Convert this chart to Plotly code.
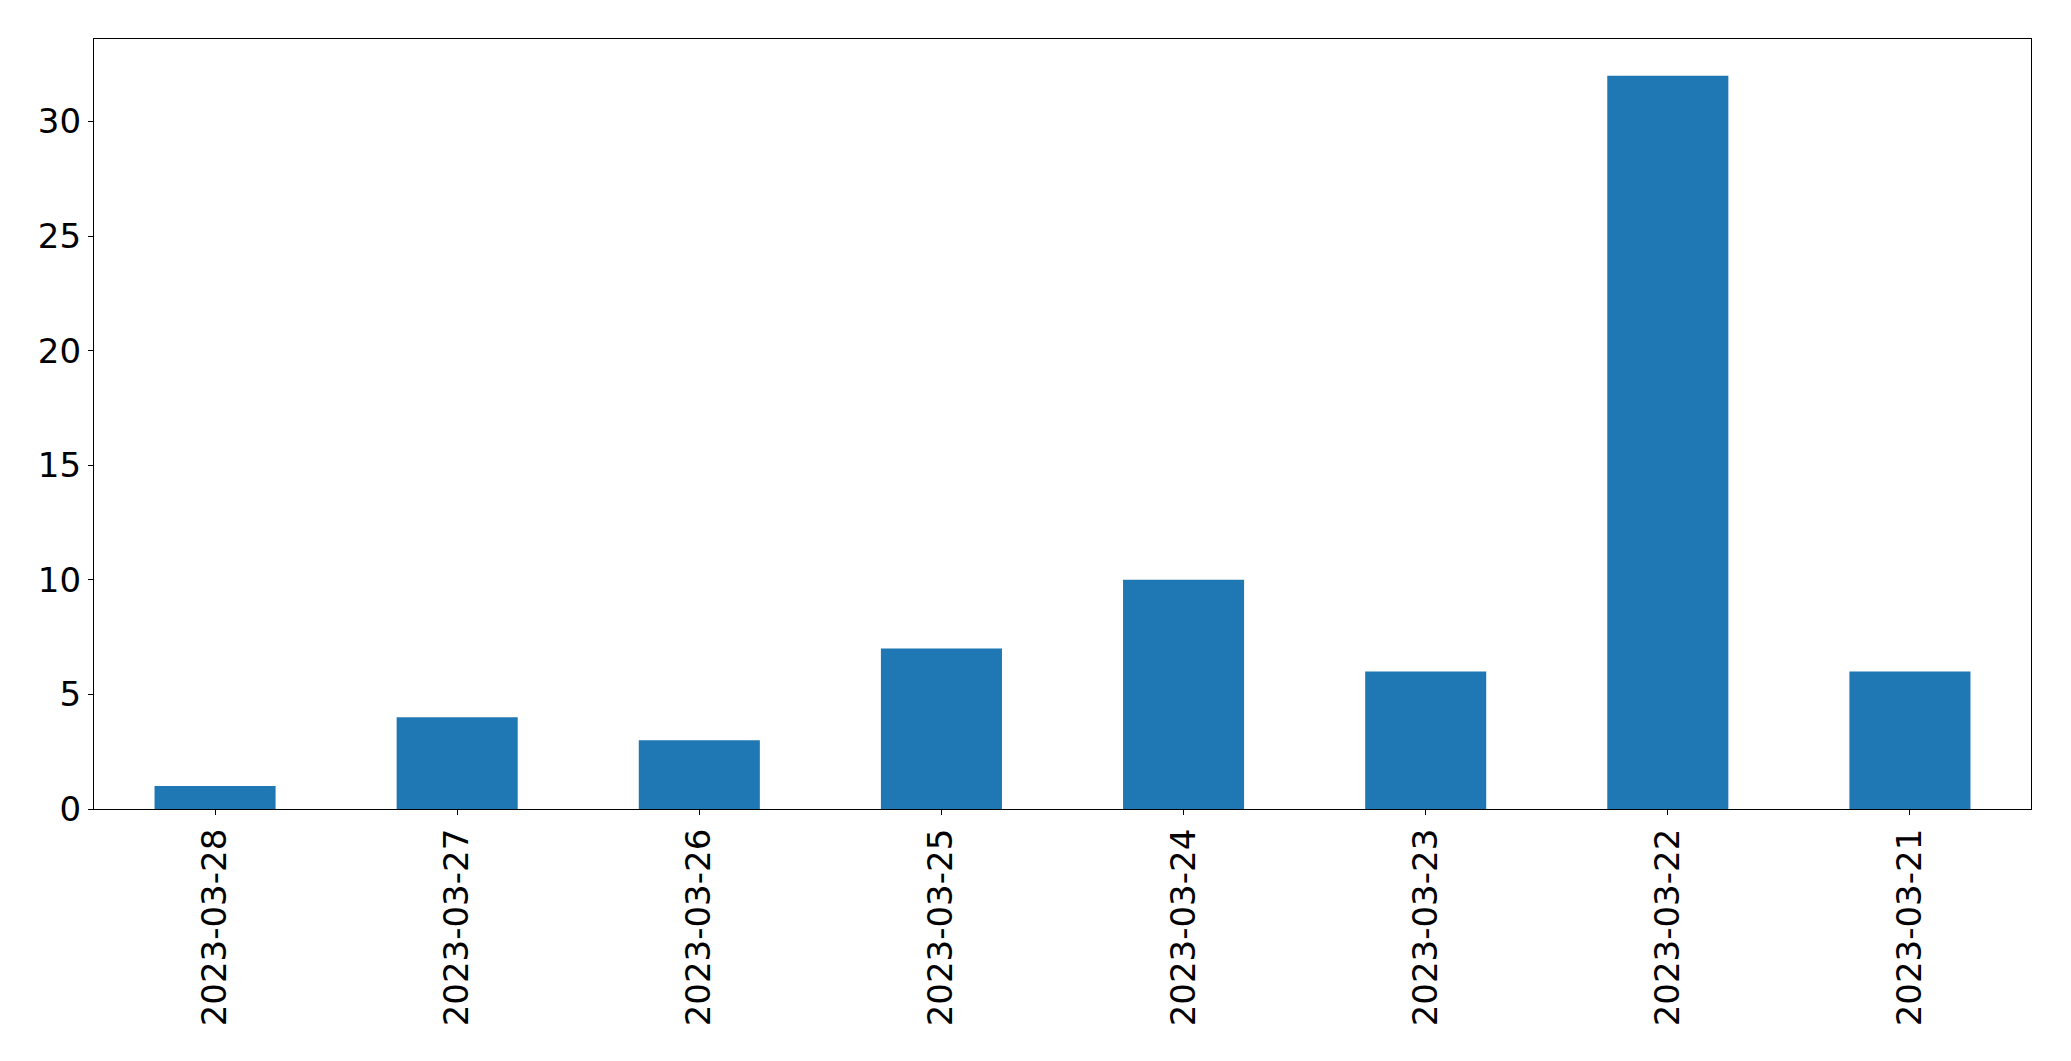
import plotly.graph_objects as go

categories = ["2023-03-28", "2023-03-27", "2023-03-26", "2023-03-25",
              "2023-03-24", "2023-03-23", "2023-03-22", "2023-03-21"]
values = [1, 4, 3, 7, 10, 6, 32, 6]
y_ticks = [0, 5, 10, 15, 20, 25, 30]

fig = go.Figure(go.Bar(x=categories, y=values, width=0.5,
                       marker=dict(color="#1f77b4", line=dict(width=0))))

axis_common = dict(showline=True, linecolor="black", linewidth=1.3, mirror=True,
                   ticks="outside", ticklen=5, tickwidth=1.3, tickcolor="black",
                   showgrid=False, zeroline=False,
                   tickfont=dict(family="DejaVu Sans", size=34, color="black"))

fig.update_layout(
    width=2063, height=1053,
    margin=dict(l=86, r=40, t=31, b=252, autoexpand=False),
    plot_bgcolor="white", paper_bgcolor="white",
    showlegend=False,
    xaxis=dict(type="category", range=[-0.5, 7.5], tickangle=-90, **axis_common),
    yaxis=dict(range=[0, 33.6], tickvals=y_ticks, **axis_common),
)

fig.write_html("out.html")
